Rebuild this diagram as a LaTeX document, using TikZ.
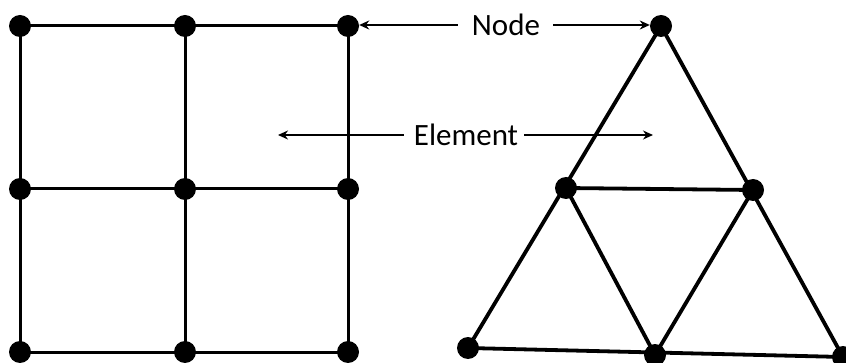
\documentclass[tikz,border=0pt]{standalone}
\usepackage{fontspec}
\setmainfont{Carlito}
\usetikzlibrary{arrows.meta}
\begin{document}
\begin{tikzpicture}[x=1pt,y=-1pt,
  dot/.style={circle,fill=black,inner sep=0pt,minimum size=22pt},
  gridline/.style={line width=3pt},
  triline/.style={line width=3.8pt},
  lbl/.style={font=\fontsize{31}{36}\selectfont,inner sep=0pt},
  arr/.style={line width=1.4pt,-{Stealth[length=10pt,width=9pt]}}]
\useasboundingbox (0,0) rectangle (846,363);
% square mesh nodes
\foreach \i/\x in {1/20,2/185,3/348}{
  \foreach \j/\y in {1/26,2/189,3/352}{
    \coordinate (q\i\j) at (\x,\y);
  }
}
\draw[gridline] (q11) -- (q31) (q12) -- (q32) (q13) -- (q33)
  (q11) -- (q13) (q21) -- (q23) (q31) -- (q33);
\foreach \i in {1,2,3}{\foreach \j in {1,2,3}{\node[dot] (d\i\j) at (q\i\j) {};}}
% triangle mesh
\coordinate (t1) at (661,26);
\coordinate (t2) at (566,188);
\coordinate (t3) at (753,190);
\coordinate (t4) at (468,348);
\coordinate (t5) at (655,355);
\coordinate (t6) at (843,357);
\draw[triline,line join=round] (t1) -- (t4) -- (t6) -- cycle;
\draw[triline,line join=round] (t2) -- (t3) -- (t5) -- cycle;
\foreach \k in {1,...,6}{\node[dot] (n\k) at (t\k) {};}
% labels
\node[lbl] (node) at (506,25) {Node};
\node[lbl] (elem) at (466,135) {Element};
\coordinate (ea) at (278,134);
\coordinate (eb) at (653,134);
\draw[arr] ([xshift=-14pt]node.west) -- (d31.east |- node.west);
\draw[arr] ([xshift=13pt]node.east) -- (n1.west |- node.east);
\draw[arr] ([xshift=-10pt]elem.west) -- (ea |- elem.west);
\draw[arr] ([xshift=6pt]elem.east) -- (eb |- elem.east);
\end{tikzpicture}
\end{document}
